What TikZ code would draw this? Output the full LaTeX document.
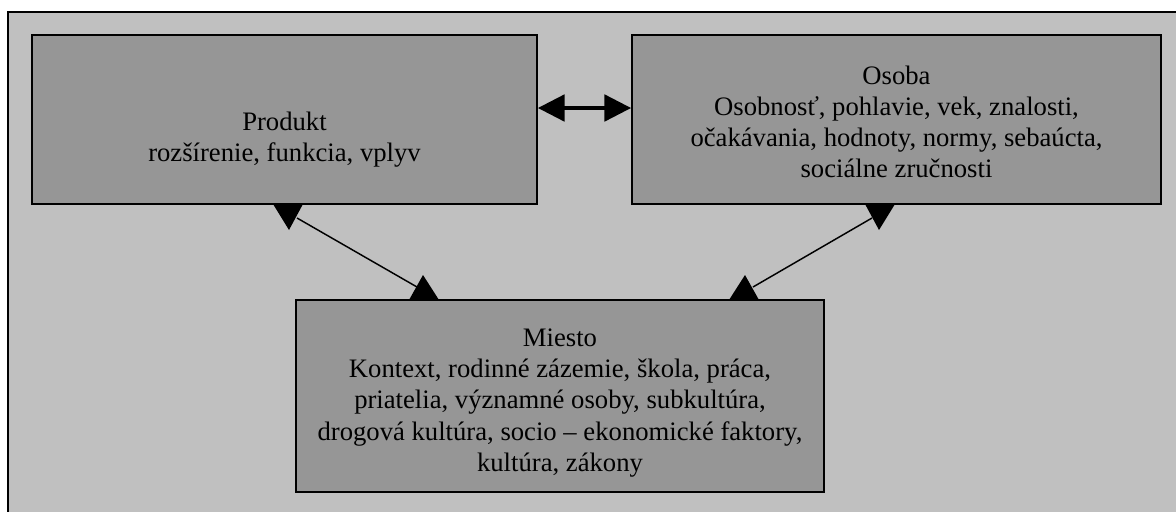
\documentclass[tikz,border=0pt]{standalone}
\usepackage{fontspec}
\setmainfont{Liberation Serif}
\usetikzlibrary{arrows.meta}
\definecolor{bgc}{HTML}{C0C0C0}
\definecolor{boxc}{HTML}{969696}
\begin{document}
\begin{tikzpicture}[x=0.75pt,y=-0.75pt,
  box/.style={draw=black, line width=1.4pt, fill=boxc, inner sep=0pt},
  txt/.style={align=center, font=\fontsize{20}{23.3}\selectfont, inner sep=0pt},
  tri/.style={fill=black},
  thin/.style={line width=1.1pt},
  thick/.style={line width=2.3pt, {Triangle[length=20pt,width=20pt]}-{Triangle[length=20pt,width=20pt]}}]
\useasboundingbox (0,0) rectangle (1176,511);
\begin{scope}
\clip (0,0) rectangle (1176,511);
\fill[white] (0,0) rectangle (1176,511);
\draw[fill=bgc, line width=1.6pt] (8,12) rectangle (1200,540);
\end{scope}
\node[box, minimum width=378.75pt, minimum height=126.75pt] (prod) at (284.5,119.5) {};
\node[txt] (prodtext) at (284.5,140) {Produkt\\rozšírenie, funkcia, vplyv};
\node[box, minimum width=396.75pt, minimum height=126.75pt] (osoba) at (896.5,119.5) {};
\node[txt] (osobatext) at (896.5,121.5)
  {Osoba\\Osobnosť, pohlavie, vek, znalosti,\\očakávania, hodnoty, normy, sebaúcta,\\sociálne zručnosti};
\node[box, minimum width=396pt, minimum height=144pt] (miesto) at (560,396) {};
\node[txt] (miestotext) at (560,403)
  {Miesto\\Kontext, rodinné zázemie, škola, práca,\\priatelia, významné osoby, subkultúra,\\drogová kultúra, socio – ekonomické faktory,\\kultúra, zákony};
\coordinate (hy) at (0,108);
\draw[thick] (prod.east |- hy) -- (osoba.west |- hy);
% left diagonal connector
\coordinate (l1) at (297,218);
\coordinate (l2) at (417,287);
\draw[thin] (l1) -- (l2);
\fill[tri] (273,204) -- (303,204) -- (289,230) -- cycle;
\fill[tri] (409,300) -- (439,300) -- (423,275) -- cycle;
% right diagonal connector
\coordinate (r1) at (872,218);
\coordinate (r2) at (753,287);
\draw[thin] (r1) -- (r2);
\fill[tri] (865,204) -- (895,204) -- (879,230) -- cycle;
\fill[tri] (729,300) -- (759,300) -- (745,275) -- cycle;
\end{tikzpicture}
\end{document}
